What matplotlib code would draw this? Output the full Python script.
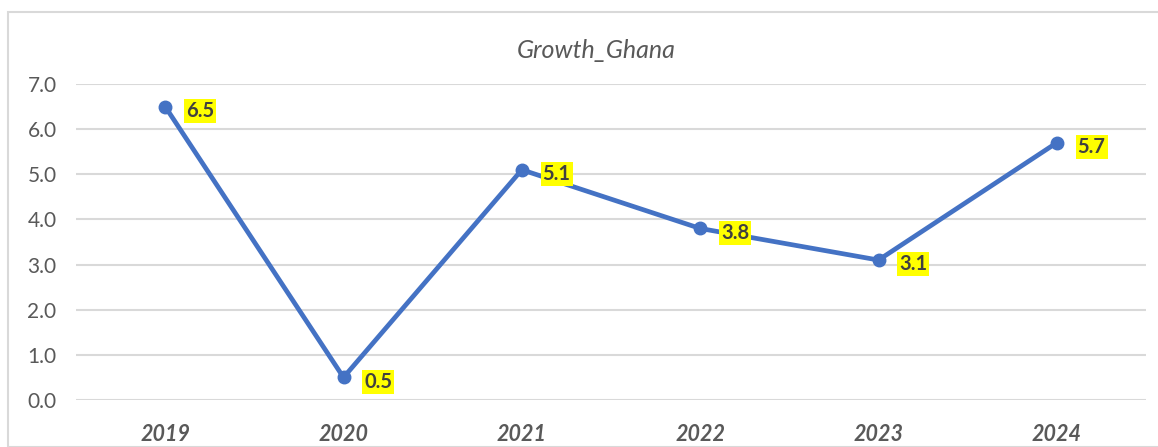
import matplotlib.pyplot as plt
from matplotlib.patches import Rectangle

# Real GDP growth, Ghana (%)
years = ["2019", "2020", "2021", "2022", "2023", "2024"]
growth = [6.5, 0.5, 5.1, 3.8, 3.1, 5.7]
y_ticks = [0, 1, 2, 3, 4, 5, 6, 7]

W, H = 1158, 447
fig = plt.figure(figsize=(W / 100, H / 100), dpi=100)
plt.rcParams["font.family"] = ["Lato", "DejaVu Sans"]

# chart area frame
fig.patches.append(Rectangle((8 / W, 0), 1.2, 1 - 12 / H, transform=fig.transFigure,
                             fill=False, edgecolor="#d9d9d9", linewidth=1.5))

ax = fig.add_axes([76 / W, 1 - 400 / H, 1070 / W, 316 / H])
x = range(len(years))
ax.plot(x, growth, color="#4472C4", linewidth=3.4, marker="o", markersize=9,
        solid_capstyle="round", clip_on=False, zorder=3)

for i, v in enumerate(growth):
    ax.annotate(f"{v:.1f}", (i, v), xytext=(15, -3), textcoords="offset points",
                ha="left", va="center", fontsize=14.5, fontweight="bold", color="#404040",
                bbox=dict(boxstyle="square,pad=0.1", facecolor="#ffff00", edgecolor="none"))

ax.set_xlim(-0.5, len(years) - 0.5)
ax.set_ylim(0, 7)
ax.set_yticks(y_ticks)
ax.set_yticklabels([f"{t:.1f}" for t in y_ticks])
ax.set_xticks(list(x))
ax.set_xticklabels(years, fontweight="bold", fontstyle="italic")
ax.tick_params(axis="y", length=0, pad=14, labelsize=15, labelcolor="#595959")
ax.tick_params(axis="x", length=0, pad=17, labelsize=15.5, labelcolor="#595959")
ax.grid(axis="y", color="#d9d9d9", linewidth=1.5)
ax.set_axisbelow(True)
for s in ax.spines.values():
    s.set_visible(False)

fig.text(596 / W, 1 - 50 / H, "Growth_Ghana", ha="center", va="center",
         fontsize=18, fontstyle="italic", color="#595959")

fig.savefig("out.png", dpi=100)
